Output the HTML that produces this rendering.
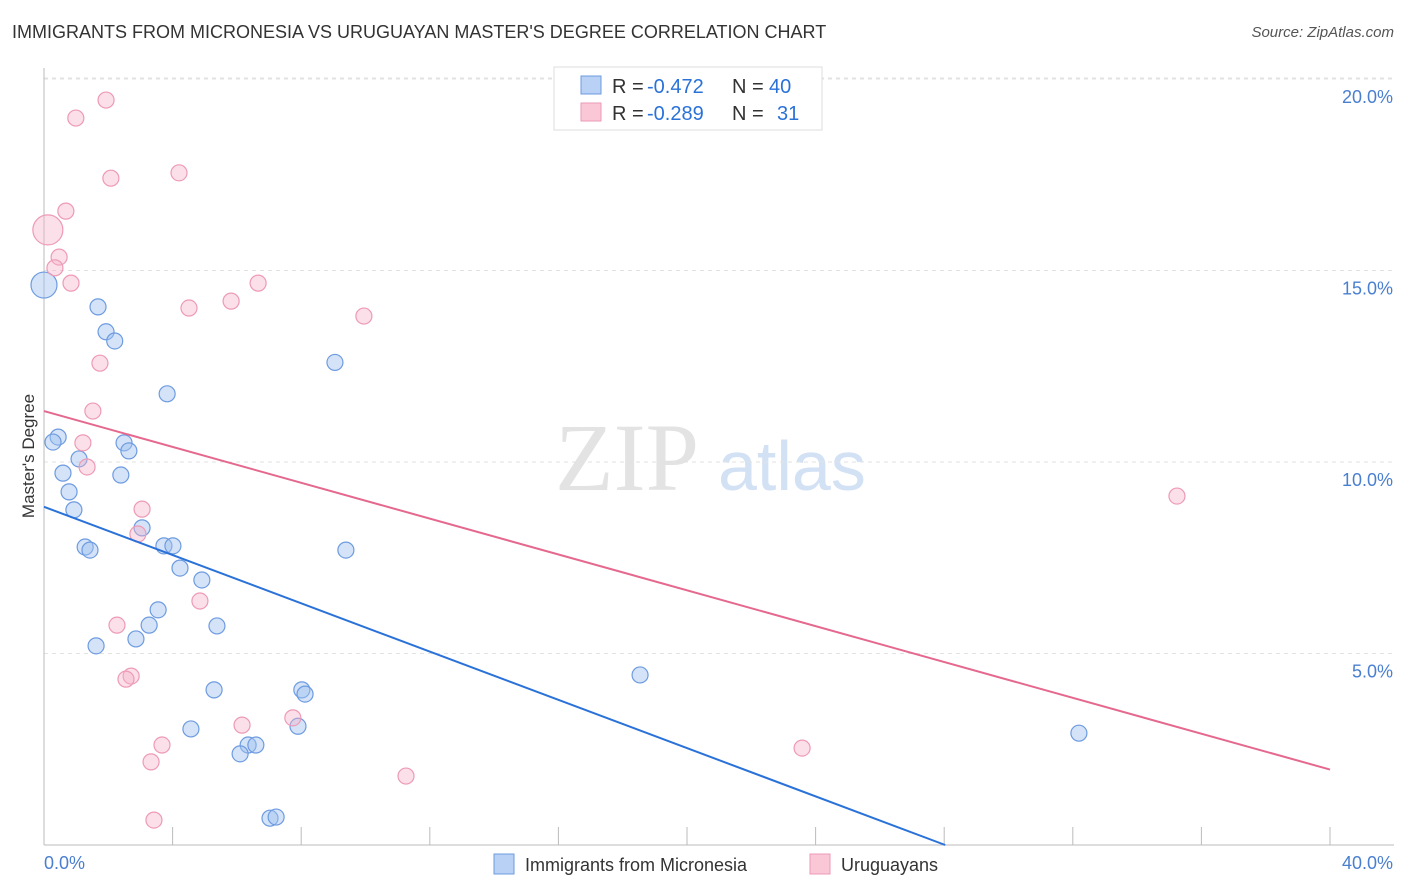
<!DOCTYPE html>
<html><head><meta charset="utf-8"><style>
body{margin:0;background:#fff;font-family:"Liberation Sans",sans-serif;}
#wrap{position:relative;width:1406px;height:892px;overflow:hidden;}
.t{position:absolute;white-space:nowrap;}
</style></head><body>
<div id="wrap">
<div class="t" style="left:12px;top:22px;font-size:18px;color:#333;">IMMIGRANTS FROM MICRONESIA VS URUGUAYAN MASTER'S DEGREE CORRELATION CHART</div>
<div class="t" style="right:12px;top:24px;font-size:15px;color:#555;font-style:italic;">Source: ZipAtlas.com</div>
<svg id="svg" width="1406" height="892" style="position:absolute;left:0;top:0"></svg>
</div>
<script>
const yTicks=[5,10,15,20];
const yTickLabels=["5.0%","10.0%","15.0%","20.0%"];
const xTickLabels=["0.0%","40.0%"];
const blueX=[0.0,1.68,1.93,2.2,3.83,9.05,0.44,0.28,2.49,2.64,1.09,0.59,2.39,0.78,0.93,3.05,1.28,1.43,3.73,4.01,9.39,4.23,4.91,3.55,3.27,5.38,2.86,1.62,18.54,5.29,8.02,8.12,4.57,7.9,6.35,6.59,6.1,32.19,7.03,7.22];
const blueY=[14.62,14.05,13.4,13.16,11.78,12.6,10.65,10.52,10.5,10.29,10.08,9.71,9.66,9.22,8.75,8.28,7.78,7.7,7.81,7.81,7.7,7.23,6.92,6.14,5.74,5.72,5.38,5.2,4.44,4.05,4.05,3.94,3.03,3.1,2.61,2.61,2.38,2.92,0.7,0.73];
const pinkX=[0.12,0.68,0.99,1.93,2.08,4.2,0.47,0.34,0.84,4.51,5.82,6.66,9.95,1.74,1.52,1.21,1.34,3.05,2.92,35.24,4.85,2.27,2.71,2.55,6.16,7.74,3.67,3.33,23.58,11.26,3.42];
const pinkY=[16.06,16.55,18.98,19.45,17.41,17.55,15.35,15.07,14.67,14.02,14.2,14.67,13.81,12.58,11.33,10.5,9.87,8.77,8.12,9.11,6.37,5.74,4.41,4.33,3.13,3.32,2.61,2.17,2.53,1.8,0.65];
const blueTrend=[8.83,-0.315];
const pinkTrend=[11.33,-0.234];
const X=v=>44+v*32.15, Y=v=>845-v*38.3;
const svg=document.getElementById('svg');const NS='http://www.w3.org/2000/svg';
function mk(tag,attrs,name){const e=document.createElementNS(NS,tag);for(const k in attrs)e.setAttribute(k,attrs[k]);


svg.appendChild(e);return e;}
// watermark
let w=mk('text',{x:555,y:490,'font-size':96,fill:'#e3e3e3','font-family':'Liberation Serif, serif'},'watermark-zip');w.textContent='ZIP';
w=mk('text',{x:718,y:490,'font-size':70,fill:'#d3e1f5','font-family':'Liberation Sans, sans-serif'},'watermark-atlas');w.textContent='atlas';
mk('line',{x1:44,y1:78,x2:1394,y2:78,stroke:'#e2e2e2','stroke-dasharray':'4,4'},'top-gridline');
yTicks.forEach((v,i)=>{mk('line',{x1:44,y1:Y(v),x2:1394,y2:Y(v),stroke:'#e2e2e2','stroke-dasharray':'4,4'},'y-gridline');
const t=mk('text',{x:1393,y:Y(v)+24,'text-anchor':'end','font-size':18,fill:'#4a7fd0'},'y-tick-label');t.textContent=yTickLabels[i];});
mk('line',{x1:44,y1:68,x2:44,y2:845,stroke:'#bbb'},'y-axis');
mk('line',{x1:44,y1:845,x2:1394,y2:845,stroke:'#bbb'},'x-axis');
for(let i=0;i<=10;i++)mk('line',{x1:X(i*4),y1:827,x2:X(i*4),y2:845,stroke:'#bbb'},'x-tick');
let t=mk('text',{x:44,y:869,'font-size':18,fill:'#4a7fd0'},'x-tick-label');t.textContent=xTickLabels[0];
t=mk('text',{x:1393,y:869,'text-anchor':'end','font-size':18,fill:'#4a7fd0'},'x-tick-label');t.textContent=xTickLabels[1];
t=mk('text',{x:34,y:456,'font-size':17,fill:'#333','text-anchor':'middle',transform:'rotate(-90 34 456)'},'y-axis-title');t.textContent="Master's Degree";
blueX.forEach((x,i)=>mk('circle',{cx:X(x),cy:Y(blueY[i]),r:i==0?13:8,fill:'rgba(160,192,240,0.45)',stroke:'#6d9be0','stroke-width':1.2},'blue-point'));
pinkX.forEach((x,i)=>mk('circle',{cx:X(x),cy:Y(pinkY[i]),r:i==0?15:8,fill:'rgba(246,178,200,0.4)',stroke:'#ee9ab5','stroke-width':1.2},'pink-point'));
const bx2=-blueTrend[0]/blueTrend[1];
mk('line',{x1:X(0),y1:Y(blueTrend[0]),x2:X(bx2),y2:Y(0),stroke:'#2a72d8','stroke-width':2},'blue-trend-line');
mk('line',{x1:X(0),y1:Y(pinkTrend[0]),x2:X(40),y2:Y(pinkTrend[0]+40*pinkTrend[1]),stroke:'#e5688f','stroke-width':2},'pink-trend-line');
// legend
mk('rect',{x:554,y:67,width:268,height:63,fill:'#fff',stroke:'#ddd'},'legend-box');
mk('rect',{x:581,y:76,width:20,height:18,fill:'#b9d1f5',stroke:'#6d9be0'},'legend-blue-swatch');
mk('rect',{x:581,y:103,width:20,height:18,fill:'#f9c7d6',stroke:'#ee9ab5'},'legend-pink-swatch');
function lt(x,y,s,c,n){const e=mk('text',{x:x,y:y,'font-size':20,fill:c},n);e.textContent=s;}
lt(612,93,'R =','#333','legend-r-label');lt(647,93,'-0.472','#2a72d8','legend-blue-r');lt(732,93,'N =','#333','legend-n-label');lt(769,93,'40','#2a72d8','legend-blue-n');
lt(612,120,'R =','#333','legend-r-label');lt(647,120,'-0.289','#2a72d8','legend-pink-r');lt(732,120,'N =','#333','legend-n-label');lt(777,120,'31','#2a72d8','legend-pink-n');
mk('rect',{x:494,y:854,width:20,height:20,fill:'#b9d1f5',stroke:'#6d9be0'},'bottom-legend-blue-swatch');
mk('rect',{x:810,y:854,width:20,height:20,fill:'#f9c7d6',stroke:'#ee9ab5'},'bottom-legend-pink-swatch');
t=mk('text',{x:525,y:871,'font-size':18,fill:'#333'},'bottom-legend-blue-label');t.textContent='Immigrants from Micronesia';
t=mk('text',{x:841,y:871,'font-size':18,fill:'#333'},'bottom-legend-pink-label');t.textContent='Uruguayans';
</script>
</body></html>
